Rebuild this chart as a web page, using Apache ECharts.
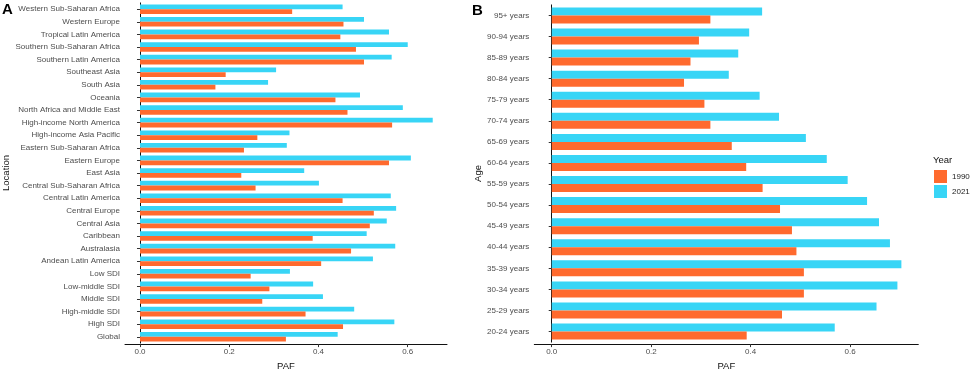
<!DOCTYPE html>
<html>
<head>
<meta charset="utf-8">
<script src="https://cdn.jsdelivr.net/npm/echarts@6/dist/echarts.min.js"></script>
<style>
html,body{margin:0;padding:0;background:#fff;}
#chart{width:972px;height:376px;}
</style>
</head>
<body>
<div id="chart"></div>
<script>
// ---- Data (top-to-bottom order as drawn) ----
const locations = [
  "Western Sub-Saharan Africa","Western Europe","Tropical Latin America","Southern Sub-Saharan Africa",
  "Southern Latin America","Southeast Asia","South Asia","Oceania","North Africa and Middle East",
  "High-income North America","High-income Asia Pacific","Eastern Sub-Saharan Africa","Eastern Europe",
  "East Asia","Central Sub-Saharan Africa","Central Latin America","Central Europe","Central Asia",
  "Caribbean","Australasia","Andean Latin America","Low SDI","Low-middle SDI","Middle SDI",
  "High-middle SDI","High SDI","Global"
];
const location1990 = [
  0.341,0.456,0.449,0.484,0.502,0.192,0.169,0.438,0.465,0.565,0.263,0.233,0.558,
  0.227,0.259,0.454,0.524,0.515,0.387,0.473,0.406,0.248,0.290,0.274,0.371,0.455,0.327
];
const location2021 = [
  0.454,0.502,0.558,0.600,0.564,0.305,0.287,0.493,0.589,0.656,0.335,0.329,0.607,
  0.368,0.401,0.562,0.574,0.553,0.508,0.572,0.522,0.336,0.388,0.410,0.480,0.570,0.443
];
const ages = [
  "95+ years","90-94 years","85-89 years","80-84 years","75-79 years","70-74 years","65-69 years",
  "60-64 years","55-59 years","50-54 years","45-49 years","40-44 years","35-39 years","30-34 years",
  "25-29 years","20-24 years"
];
const age1990 = [0.319,0.296,0.279,0.266,0.307,0.319,0.362,0.391,0.424,0.459,0.483,0.492,0.507,0.507,0.463,0.392];
const age2021 = [0.423,0.397,0.375,0.356,0.418,0.457,0.511,0.553,0.595,0.634,0.658,0.680,0.703,0.695,0.653,0.569];
const years = ["1990","2021"];
const pafTicks = [0, 0.2, 0.4, 0.6];

// ---- Styles ----
const FONT = "Liberation Sans, Arial, sans-serif";
const ORANGE = "#FF6A2E";
const CYAN = "#38D5F6";

function xAxisCfg(gridIndex, min, max, offset) {
  return {
    type: "value", gridIndex, min, max, offset,
    name: "PAF", nameLocation: "middle", nameGap: 15,
    nameTextStyle: { fontFamily: FONT, fontSize: 9.5, color: "#111" },
    splitLine: { show: false },
    axisLine: { show: true, lineStyle: { color: "#111", width: 1 } },
    axisTick: { show: true, length: 3, customValues: pafTicks, lineStyle: { color: "#333" } },
    axisLabel: { customValues: pafTicks, margin: 4, fontFamily: FONT, fontSize: 8, color: "#4D4D4D",
      formatter: v => v.toFixed(1) }
  };
}
function yAxisCfg(gridIndex, cats, name, nameGap) {
  return {
    type: "category", gridIndex, data: cats, inverse: true,
    name, nameLocation: "middle", nameGap,
    nameTextStyle: { fontFamily: FONT, fontSize: 9.5, color: "#111" },
    axisLine: { show: true, lineStyle: { color: "#111", width: 1 } },
    axisTick: { show: true, length: 3, alignWithLabel: true, lineStyle: { color: "#333" } },
    axisLabel: { margin: 5, fontFamily: FONT, fontSize: 8, color: "#4D4D4D", interval: 0 }
  };
}

const chart = echarts.init(document.getElementById("chart"), null, { renderer: "canvas" });
const option = {
  backgroundColor: "#fff",
  animation: false,
  grid: [
    { left: 125, top: 2.9, width: 322, height: 347 },
    { left: 534.3, top: 4.9, width: 384, height: 345.6 }
  ],
  xAxis: [
    xAxisCfg(0, -0.0336, 0.688, 1),
    xAxisCfg(1, -0.035, 0.737, 2)
  ],
  yAxis: [
    yAxisCfg(0, locations, "Location", 112),
    yAxisCfg(1, ages, "Age", 51)
  ],
  legend: {
    data: years, orient: "vertical", left: 934, top: 170, padding: 0, width: 38,
    itemWidth: 13, itemHeight: 13, itemGap: 2, icon: "rect",
    textStyle: { fontFamily: FONT, fontSize: 8, color: "#222" }
  },
  series: [
    { name: years[1], type: "bar", xAxisIndex: 0, yAxisIndex: 0, data: location2021,
      barWidth: 4.8, barGap: "0%", itemStyle: { color: CYAN } },
    { name: years[0], type: "bar", xAxisIndex: 0, yAxisIndex: 0, data: location1990,
      barWidth: 4.8, barGap: "0%", itemStyle: { color: ORANGE } },
    { name: years[1], type: "bar", xAxisIndex: 1, yAxisIndex: 1, data: age2021,
      barWidth: 8, barGap: "0%", itemStyle: { color: CYAN } },
    { name: years[0], type: "bar", xAxisIndex: 1, yAxisIndex: 1, data: age1990,
      barWidth: 8, barGap: "0%", itemStyle: { color: ORANGE } }
  ],
  graphic: [
    { type: "text", left: 2, top: 2, style: { text: "A", fontFamily: FONT, fontSize: 15, fontWeight: "bold", fill: "#000" } },
    { type: "text", left: 472, top: 3, style: { text: "B", fontFamily: FONT, fontSize: 15, fontWeight: "bold", fill: "#000" } },
    { type: "text", left: 933, top: 155, style: { text: "Year", fontFamily: FONT, fontSize: 9.5, fill: "#111" } }
  ]
};
chart.setOption(option);
</script>
</body>
</html>
